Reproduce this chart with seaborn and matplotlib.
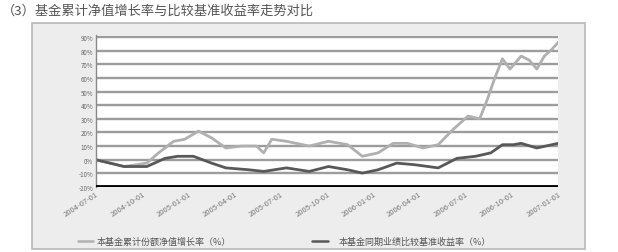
import pandas as pd
import seaborn as sns
import matplotlib.pyplot as plt
import matplotlib.dates as mdates
from matplotlib.patches import Rectangle
from matplotlib.lines import Line2D

# 基金累计净值增长率
fund_dates = ['2004-07-01', '2004-08-26', '2004-10-10', '2004-11-02', '2004-12-02', '2004-12-24',
              '2005-01-20', '2005-02-15', '2005-03-15', '2005-04-15', '2005-05-15', '2005-05-29',
              '2005-06-14', '2005-07-13', '2005-08-27', '2005-10-04', '2005-11-11', '2005-12-10',
              '2006-01-10', '2006-02-09', '2006-03-09', '2006-04-09', '2006-05-09', '2006-06-07',
              '2006-07-07', '2006-07-30', '2006-08-14', '2006-08-28', '2006-09-13', '2006-09-28',
              '2006-10-20', '2006-11-05', '2006-11-20', '2006-12-05', '2006-12-20', '2007-01-01']
fund_values = [0, -5, -2.5, 5, 13.5, 15, 21, 16, 8.6, 10, 10, 5, 15, 13.5, 10, 13.5, 11, 2.5,
               5, 12, 12, 8.6, 11, 22, 32, 30, 44, 59, 74, 66.5, 76, 73, 66.5, 76, 81, 86]

# 业绩比较基准收益率
bench_dates = ['2004-07-01', '2004-08-26', '2004-10-10', '2004-11-15', '2004-12-10', '2005-01-10',
               '2005-02-15', '2005-03-15', '2005-04-30', '2005-05-29', '2005-07-13', '2005-08-27',
               '2005-10-04', '2005-11-11', '2005-12-10', '2006-01-10', '2006-02-16', '2006-03-24',
               '2006-05-09', '2006-06-15', '2006-07-22', '2006-08-21', '2006-09-13', '2006-10-05',
               '2006-10-20', '2006-11-20', '2006-12-20', '2007-01-01']
bench_values = [0, -5, -5, 1, 2.5, 2.5, -2.5, -6, -7.4, -8.6, -6, -8.6, -5, -7.4, -9.8, -7.4,
                -2.5, -3.7, -6, 1, 2.5, 5, 11, 11, 12, 8.6, 11, 12]

fund_label = '本基金累计份额净值增长率（%）'
bench_label = '本基金同期业绩比较基准收益率（%）'
tick_dates = pd.date_range('2004-07-01', periods=11, freq='3MS')
y_ticks = list(range(-20, 100, 10))

df = pd.concat([
    pd.DataFrame({'date': pd.to_datetime(fund_dates), 'value': fund_values, 'series': fund_label}),
    pd.DataFrame({'date': pd.to_datetime(bench_dates), 'value': bench_values, 'series': bench_label}),
])

sns.set_style('white')
plt.rcParams['font.family'] = ['Noto Sans CJK SC', 'DejaVu Sans']

fig = plt.figure(figsize=(6.18, 2.53), dpi=100)
fig.patches.append(Rectangle((0.052, 0.012), 0.895, 0.893, transform=fig.transFigure,
                             facecolor='#ededed', edgecolor='#b8b8b8', linewidth=1.2, zorder=-10))
fig.text(0.003, 0.955, '（3）基金累计净值增长率与比较基准收益率走势对比', fontsize=9.5,
         color='#555555', va='center')

ax = fig.add_axes([0.155, 0.257, 0.748, 0.601])
ax.set_facecolor('white')
for y in y_ticks[1:]:
    ax.axhline(y, color='#9c9c9c', linewidth=1.7, zorder=1)
ax.axhline(-20, color='black', linewidth=3.5, zorder=3)

sns.lineplot(data=df, x='date', y='value', hue='series', ax=ax,
             palette={fund_label: '#b0b0b0', bench_label: '#585858'},
             linewidth=2.0, legend=False, zorder=2)

ax.set_ylim(-20, 91.5)
ax.set_xlim(tick_dates[0], tick_dates[-1])
ax.set_yticks(y_ticks)
ax.set_yticklabels([f'{v}%' for v in y_ticks], fontsize=4.5, color='#666666')
ax.set_xticks(tick_dates)
ax.xaxis.set_major_formatter(mdates.DateFormatter('%Y-%m-%d'))
plt.setp(ax.get_xticklabels(), rotation=33, ha='right', rotation_mode='anchor',
         fontsize=5.5, color='#777777')
ax.tick_params(axis='both', length=0, pad=2)
ax.set_xlabel('')
ax.set_ylabel('')
for side in ['top', 'right', 'bottom']:
    ax.spines[side].set_visible(False)
ax.spines['left'].set_color('#888888')
ax.spines['left'].set_linewidth(1.0)

fig.lines.append(Line2D([0.126, 0.151], [0.043, 0.043], transform=fig.transFigure,
                        color='#b0b0b0', linewidth=1.8))
fig.text(0.157, 0.043, fund_label, fontsize=6.5, color='#555555', va='center')
fig.lines.append(Line2D([0.505, 0.53], [0.043, 0.043], transform=fig.transFigure,
                        color='#585858', linewidth=1.8))
fig.text(0.548, 0.043, bench_label, fontsize=6.5, color='#555555', va='center')

fig.savefig('out.png', dpi=100)
